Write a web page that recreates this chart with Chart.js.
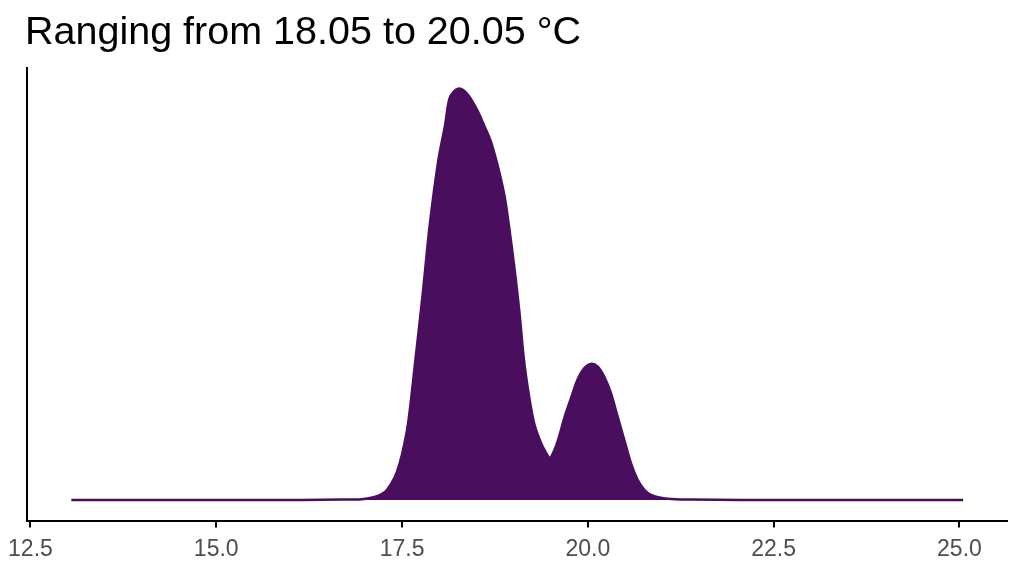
<!DOCTYPE html>
<html>
<head>
<meta charset="utf-8">
<script src="https://cdn.jsdelivr.net/npm/chart.js@4/dist/chart.umd.min.js"></script>
<style>
  html, body { margin: 0; padding: 0; background: #ffffff; }
  #wrap { width: 1024px; height: 576px; }
</style>
</head>
<body>
<div id="wrap"><canvas id="c" width="1024" height="576"></canvas></div>
<script>
const titleText = "Ranging from 18.05 to 20.05 °C";

// Temperature (°C) sample points of the density curve
const temperatures = [13.05, 16.15, 16.69, 16.96, 17.13, 17.27, 17.36, 17.43, 17.50, 17.58,
  17.68, 17.78, 17.87, 17.99, 18.08, 18.12, 18.16, 18.27, 18.39, 18.52,
  18.61, 18.70, 18.80, 18.88, 18.94, 19.01, 19.08, 19.14, 19.21, 19.28,
  19.37, 19.44, 19.49, 19.54, 19.60, 19.69, 19.78, 19.86, 19.95, 20.04,
  20.13, 20.22, 20.31, 20.40, 20.49, 20.58, 20.67, 20.76, 20.85, 20.98,
  21.12, 21.39, 22.06, 25.05];

// Density values at those temperatures
const densities = [0.0, 0.0, 0.0005, 0.0011, 0.0047, 0.0127, 0.0269, 0.0440, 0.0720, 0.1200,
  0.2215, 0.3275, 0.4319, 0.5379, 0.5930, 0.6250, 0.6400, 0.6502, 0.6400, 0.6140,
  0.5901, 0.5648, 0.5221, 0.4794, 0.4319, 0.3686, 0.2958, 0.2215, 0.1630, 0.1200,
  0.0900, 0.0740, 0.0665, 0.0760, 0.0950, 0.1320, 0.1630, 0.1900, 0.2080, 0.2150,
  0.2110, 0.1950, 0.1690, 0.1320, 0.0950, 0.0580, 0.0316, 0.0160, 0.0080, 0.0035,
  0.0016, 0.0005, 0.0, 0.0];

const xTickValues = [12.5, 15.0, 17.5, 20.0, 22.5, 25.0];

const fillColor = "#490e5d";

const points = temperatures.map((t, i) => ({ x: t, y: densities[i] }));
const yMax = Math.max(...densities);

new Chart(document.getElementById("c"), {
  type: "line",
  data: {
    datasets: [{
      data: points,
      borderColor: fillColor,
      backgroundColor: fillColor,
      borderWidth: 2.5,
      fill: "origin",
      pointRadius: 0,
      tension: 0.3
    }]
  },
  options: {
    responsive: false,
    animation: false,
    events: [],
    layout: { padding: { left: 25, right: 17, top: 0, bottom: 0 } },
    plugins: {
      legend: { display: false },
      tooltip: { enabled: false },
      title: {
        display: true,
        text: titleText,
        align: "start",
        color: "#000000",
        font: { family: "'Liberation Sans', Arial, sans-serif", size: 39.5, weight: "normal", lineHeight: 1.2 },
        padding: { top: 9.5, bottom: 11 }
      }
    },
    scales: {
      x: {
        type: "linear",
        min: 12.46,
        max: 25.64,
        afterBuildTicks: s => { s.ticks = xTickValues.map(v => ({ value: v })); },
        afterFit: s => { s.height = 55.5; },
        ticks: {
          color: "#4d4d4d",
          padding: 8,
          font: { family: "'Liberation Sans', Arial, sans-serif", size: 23 },
          callback: v => Number(v).toFixed(1),
          maxRotation: 0,
          autoSkip: false
        },
        grid: {
          display: true,
          drawOnChartArea: false,
          drawTicks: true,
          tickLength: 7,
          color: "#000000",
          lineWidth: 2
        },
        border: { display: true, color: "#000000", width: 2 }
      },
      y: {
        type: "linear",
        min: -0.05 * yMax,
        max: 1.05 * yMax,
        afterFit: s => { s.width = 0; },
        ticks: { display: false },
        grid: { display: false, drawTicks: false },
        border: { display: true, color: "#000000", width: 2 }
      }
    }
  }
});
</script>
</body>
</html>
